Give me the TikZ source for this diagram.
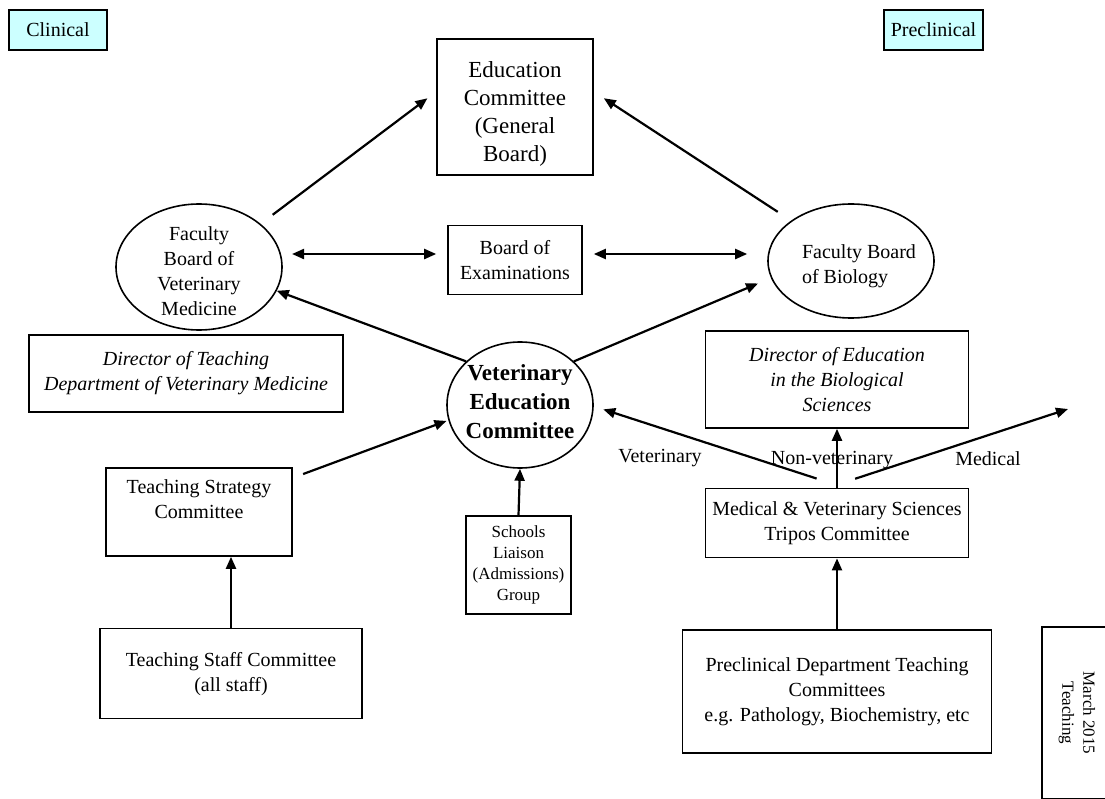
\documentclass[tikz,border=0pt]{standalone}
\usepackage{fontspec}
\setmainfont{Liberation Serif}
\usetikzlibrary{positioning,shapes.geometric,arrows.meta}
\definecolor{tagcyan}{HTML}{CCFFFF}

\begin{document}
\begin{tikzpicture}[
        x=1pt, y=-1pt,
        txt/.style = {font=\fontsize{20}{25}\selectfont, align=center},
        box/.style = {rectangle, draw, line width=1.6pt, inner sep=0pt, txt},
        oval/.style = {ellipse, draw, line width=1.6pt, inner sep=0pt},
        tag/.style = {box, fill=tagcyan, line width=2pt},
        line/.style = {draw, -{Triangle[length=12pt,width=10pt]}, line width=2.2pt}, % one way
        twoway/.style = {draw, {Triangle[length=12pt,width=10pt]}-{Triangle[length=12pt,width=10pt]}, line width=2.2pt},
        node distance=49pt
    ]
        \useasboundingbox (0,0) rectangle (1105,799);
        \clip (0,0) rectangle (1105,799);

        % Nodes
        \node [tag, minimum width=98, minimum height=40] (clinical) at (58,30) {Clinical};
        \node [tag, minimum width=99, minimum height=40] (preclinical) at (933.5,30) {Preclinical};

        \node [box, minimum width=156, minimum height=136, font=\fontsize{23}{28}\selectfont] (edu) at (515,107) {\rule{0pt}{30pt}Education\\Committee\\(General\\Board)};
        \node [box, minimum width=134, minimum height=69, below=of edu] (board) {Board of\\Examinations};

        \node [oval, minimum width=166, minimum height=126,
               label={[txt, yshift=-4pt]center:{Faculty\\Board of\\Veterinary\\Medicine}}] (fbvm) at (199,267) {};
        \node [oval, minimum width=166, minimum height=114,
               label={[txt, align=left, xshift=8pt, yshift=-5pt]center:{Faculty Board\\of Biology}}] (fbb) at (851,261) {};
        \node [oval, minimum width=146, minimum height=126,
               label={[txt, font=\bfseries\fontsize{23}{29}\selectfont, yshift=3pt]center:{Veterinary\\Education\\Committee}}] (vec) at (520,405) {};

        \node [box, minimum width=314, minimum height=77, font=\itshape\fontsize{20}{25}\selectfont] (dirteach) at (186,373.5) {Director of Teaching\\Department of Veterinary Medicine};
        \node [box, minimum width=186, minimum height=88] (tsc) at (199,512) {Teaching Strategy\\Committee\\\mbox{}};
        \node [box, minimum width=262, minimum height=90, below=71pt of tsc, xshift=32pt] (tstaff) {Teaching Staff Committee\\(all staff)};
        \node [box, minimum width=105, minimum height=98, font=\fontsize{17}{21}\selectfont] (schools) at (518.5,565) {Schools\\Liaison\\(Admissions)\\Group};

        \node [box, minimum width=263, minimum height=97, font=\itshape\fontsize{20}{25}\selectfont] (diredu) at (837,379.5) {Director of Education\\in the Biological\\Sciences};
        \node [box, minimum width=263, minimum height=69, below=59pt of diredu] (mvst) {Medical \& Veterinary Sciences\\Tripos Committee};
        \node [box, minimum width=309, minimum height=123, below=71pt of mvst] (precl) {Preclinical Department Teaching\\Committees\\e.g. Pathology, Biochemistry, etc};

        \node [box, rotate=-90, minimum width=172, minimum height=70, font=\fontsize{17}{21}\selectfont] (stamp) at (1077,713) {March 2015\\Teaching};

        % Arrow labels
        \node [txt] (vetlabel) at (660,458) {Veterinary};
        \node [txt] (nonvetlabel) at (832,460) {Non-veterinary};
        \node [txt] (medlabel) at (988,459) {Medical};
        \coordinate (medend) at (1068,409);

        % Lines
        \draw [line, shorten <=15pt, shorten >=11pt] (fbvm.35) -- (edu.169);
        \draw [line, shorten <=16pt, shorten >=12pt] (fbb.146) -- (edu.11);
        \draw [twoway, shorten <=11pt, shorten >=11pt] (fbvm.9) -- (fbvm.9 -| board.west);
        \draw [twoway, shorten <=11pt, shorten >=20pt] (fbvm.9 -| board.east) -- (fbvm.9 -| fbb.west);
        \draw [line] (vec.141) -- (fbvm.-17);
        \draw [line, shorten >=14pt] (vec.39) -- (fbb.192);
        \draw [line, shorten <=11pt, shorten >=2pt] (tsc.20) -- (vec.192);
        \draw [line] (tstaff.north) -- (tstaff.north |- tsc.south);
        \draw [line] (schools.north) -- (vec.south);
        \draw [line] (mvst.north) -- (diredu.south);
        \draw [line] (precl.north) -- (mvst.south);
        \draw [line, shorten <=30pt, shorten >=10pt] (mvst.77) -- (vec.-1);
        \draw [line, shorten <=29pt] (mvst.105) -- (medend);
\end{tikzpicture}
\end{document}
